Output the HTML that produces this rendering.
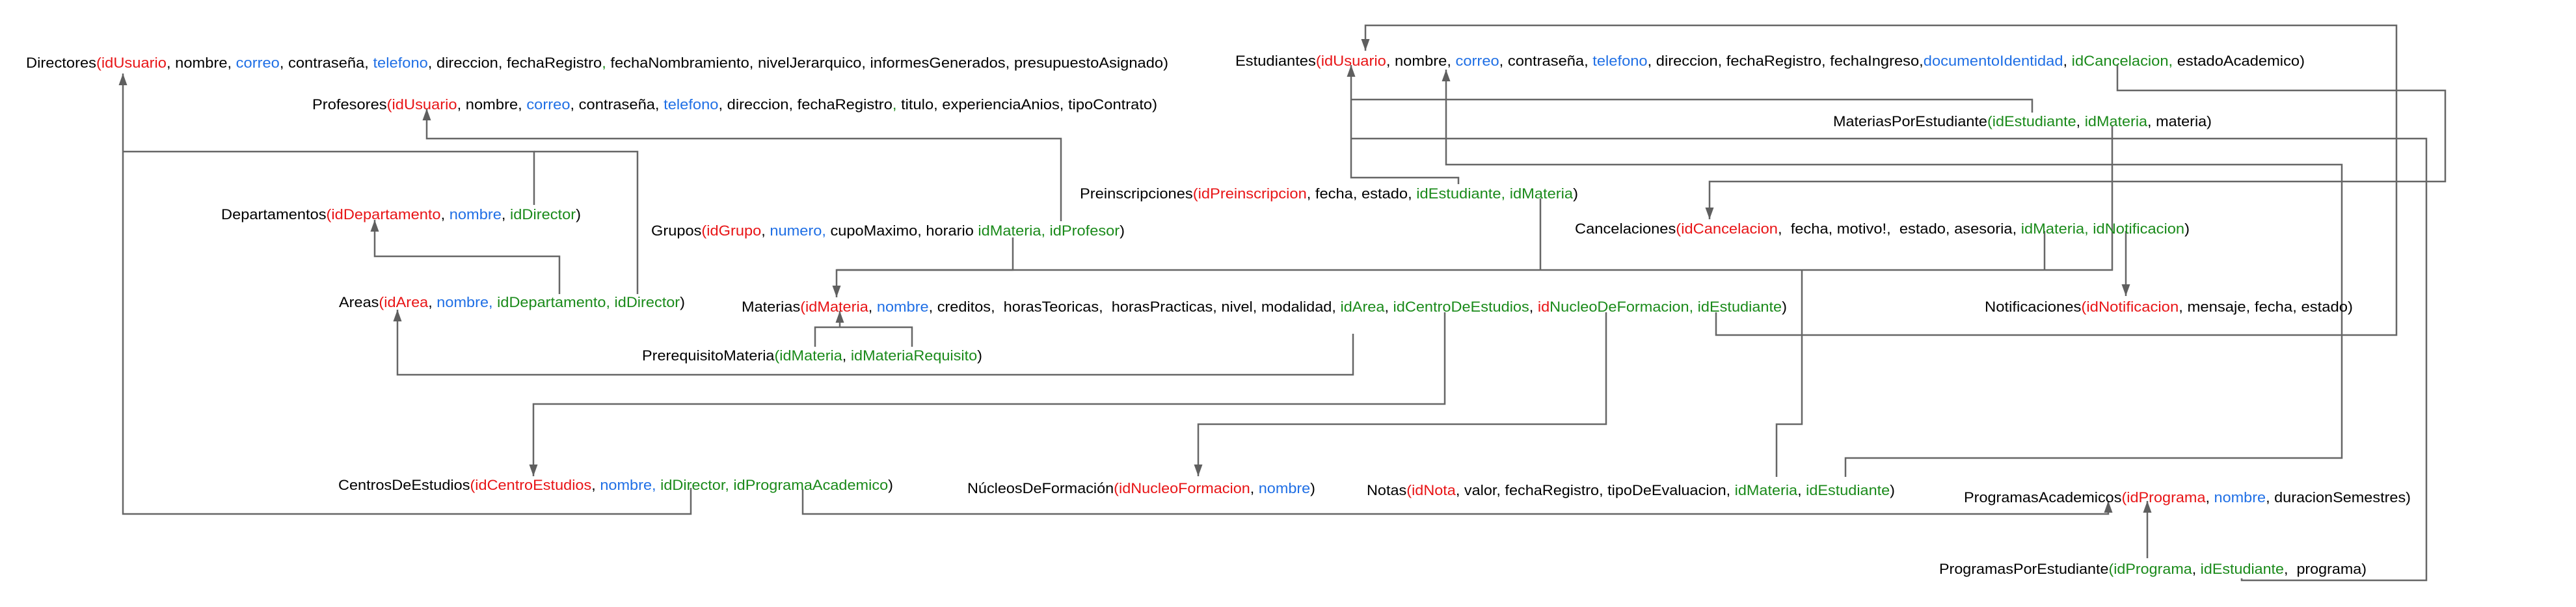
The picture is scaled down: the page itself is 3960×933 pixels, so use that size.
<!DOCTYPE html>
<html><head><meta charset="utf-8"><style>
html,body{margin:0;padding:0;background:#fff;}
svg{display:block}
text{font-family:"Liberation Sans",sans-serif;font-size:22px;fill:#000;white-space:pre}
.r{fill:#e81416}.b{fill:#1f6fe5}.g{fill:#1a8a1a}
path{fill:none;stroke:#666;stroke-width:2.5}
</style></head><body>
<svg width="3960" height="933" viewBox="0 0 3960 933" xmlns="http://www.w3.org/2000/svg">
<defs><marker id="a" markerUnits="userSpaceOnUse" markerWidth="20" markerHeight="14" refX="18" refY="6.5" orient="auto"><path d="M0,0 L18,6.5 L0,13 z" style="fill:#5f5f5f;stroke:none"/></marker></defs>

<path d="M1062,750 V790 H189 V113" marker-end="url(#a)"/>
<path d="M821,315 V233 H189"/>
<path d="M980,452 V233 H821"/>
<path d="M1631,340 V213 H656 V167" marker-end="url(#a)"/>
<path d="M860,452 V394 H576 V338" marker-end="url(#a)"/>
<path d="M2080,513 V576 H611 V476" marker-end="url(#a)"/>
<path d="M1557,365 V415 H1286 V457" marker-end="url(#a)"/>
<path d="M2368,305 V415"/>
<path d="M2770,415 V652 H2731 V733"/>
<path d="M3247,193 V415 H1286"/>
<path d="M3143,355 V415"/>
<path d="M3268,355 V455" marker-end="url(#a)"/>
<path d="M2242,283 V273 H2077 V100" marker-end="url(#a)"/>
<path d="M3124,173 V153 H2077"/>
<path d="M3446,889 V892 H3730 V213 H2077"/>
<path d="M2837,733 V704 H3600 V253 H2223 V107" marker-end="url(#a)"/>
<path d="M2638,480 V515 H3684 V39 H2099 V78" marker-end="url(#a)"/>
<path d="M3255,100 V139 H3759 V279 H2628 V337" marker-end="url(#a)"/>
<path d="M1253,533 V503 H1402 V533"/>
<path d="M1291,503 V478" marker-end="url(#a)"/>
<path d="M2221,480 V621 H820 V732" marker-end="url(#a)"/>
<path d="M2469,480 V652 H1842 V732" marker-end="url(#a)"/>
<path d="M1234,752 V790 H3241 V770" marker-end="url(#a)"/>
<path d="M3301,858 V770" marker-end="url(#a)"/>

<text x="40" y="104" textLength="1756" lengthAdjust="spacingAndGlyphs">Directores<tspan class="r">(idUsuario</tspan>, nombre, <tspan class="b">correo</tspan>, contraseña, <tspan class="b">telefono</tspan>, direccion, fechaRegistro<tspan class="g">,</tspan> fechaNombramiento, nivelJerarquico, informesGenerados, presupuestoAsignado)</text>
<text x="480" y="168" textLength="1299" lengthAdjust="spacingAndGlyphs">Profesores<tspan class="r">(idUsuario</tspan>, nombre, <tspan class="b">correo</tspan>, contraseña, <tspan class="b">telefono</tspan>, direccion, fechaRegistro<tspan class="g">,</tspan> titulo, experienciaAnios, tipoContrato)</text>
<text x="1899" y="101" textLength="1644" lengthAdjust="spacingAndGlyphs">Estudiantes<tspan class="r">(idUsuario</tspan>, nombre, <tspan class="b">correo</tspan>, contraseña, <tspan class="b">telefono</tspan>, direccion, fechaRegistro, fechaIngreso,<tspan class="b">documentoIdentidad</tspan>, <tspan class="g">idCancelacion,</tspan> estadoAcademico)</text>
<text x="2818" y="194" textLength="582" lengthAdjust="spacingAndGlyphs">MateriasPorEstudiante<tspan class="g">(idEstudiante</tspan>, <tspan class="g">idMateria</tspan>, materia)</text>
<text x="1660" y="305" textLength="766" lengthAdjust="spacingAndGlyphs">Preinscripciones<tspan class="r">(idPreinscripcion</tspan>, fecha, estado, <tspan class="g">idEstudiante, idMateria</tspan>)</text>
<text x="340" y="337" textLength="553" lengthAdjust="spacingAndGlyphs">Departamentos<tspan class="r">(idDepartamento</tspan>, <tspan class="b">nombre</tspan>, <tspan class="g">idDirector</tspan>)</text>
<text x="1001" y="362" textLength="728" lengthAdjust="spacingAndGlyphs">Grupos<tspan class="r">(idGrupo</tspan>, <tspan class="b">numero,</tspan> cupoMaximo, horario <tspan class="g">idMateria, idProfesor</tspan>)</text>
<text x="2421" y="359" textLength="945" lengthAdjust="spacingAndGlyphs">Cancelaciones<tspan class="r">(idCancelacion</tspan>,  fecha, motivo!,  estado, asesoria, <tspan class="g">idMateria, idNotificacion</tspan>)</text>
<text x="521" y="472" textLength="532" lengthAdjust="spacingAndGlyphs">Areas<tspan class="r">(idArea</tspan>, <tspan class="b">nombre,</tspan> <tspan class="g">idDepartamento, idDirector</tspan>)</text>
<text x="1140" y="479" textLength="1607" lengthAdjust="spacingAndGlyphs">Materias<tspan class="r">(idMateria</tspan>, <tspan class="b">nombre</tspan>, creditos,  horasTeoricas,  horasPracticas, nivel, modalidad, <tspan class="g">idArea</tspan>, <tspan class="g">idCentroDeEstudios</tspan>, <tspan class="r">id</tspan><tspan class="g">NucleoDeFormacion, idEstudiante</tspan>)</text>
<text x="3051" y="479" textLength="566" lengthAdjust="spacingAndGlyphs">Notificaciones<tspan class="r">(idNotificacion</tspan>, mensaje, fecha, estado)</text>
<text x="987" y="554" textLength="523" lengthAdjust="spacingAndGlyphs">PrerequisitoMateria<tspan class="g">(idMateria</tspan>, <tspan class="g">idMateriaRequisito</tspan>)</text>
<text x="520" y="753" textLength="853" lengthAdjust="spacingAndGlyphs">CentrosDeEstudios<tspan class="r">(idCentroEstudios</tspan>, <tspan class="b">nombre,</tspan> <tspan class="g">idDirector, idProgramaAcademico</tspan>)</text>
<text x="1487" y="758" textLength="535" lengthAdjust="spacingAndGlyphs">NúcleosDeFormación<tspan class="r">(idNucleoFormacion</tspan>, <tspan class="b">nombre</tspan>)</text>
<text x="2101" y="761" textLength="812" lengthAdjust="spacingAndGlyphs">Notas<tspan class="r">(idNota</tspan>, valor, fechaRegistro, tipoDeEvaluacion, <tspan class="g">idMateria</tspan>, <tspan class="g">idEstudiante</tspan>)</text>
<text x="3019" y="772" textLength="687" lengthAdjust="spacingAndGlyphs">ProgramasAcademicos<tspan class="r">(idPrograma</tspan>, <tspan class="b">nombre</tspan>, duracionSemestres)</text>
<text x="2981" y="882" textLength="657" lengthAdjust="spacingAndGlyphs">ProgramasPorEstudiante<tspan class="g">(idPrograma</tspan>, <tspan class="g">idEstudiante</tspan>,  programa)</text>
</svg>
</body></html>
